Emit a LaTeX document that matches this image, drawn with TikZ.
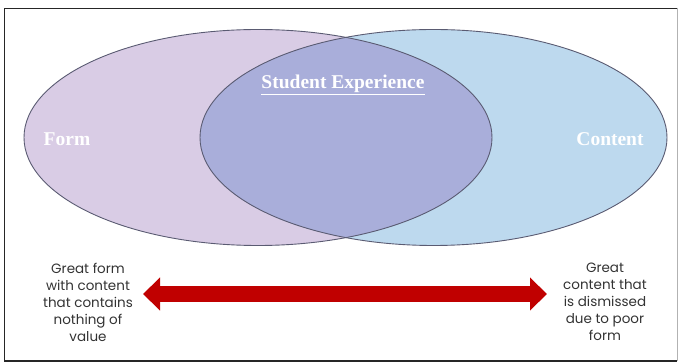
\documentclass[tikz,border=0pt]{standalone}
\usepackage{fontspec}
\setmainfont{Liberation Serif}
\newfontfamily\capfont{Poppins}
\usetikzlibrary{arrows.meta}

\definecolor{formfill}{HTML}{D9CCE5}
\definecolor{contentfill}{HTML}{BDD9EE}
\definecolor{overlapfill}{HTML}{A9AEDA}
\definecolor{rimline}{HTML}{5A5B72}
\definecolor{arrowred}{HTML}{C00000}

\tikzset{
  rim/.style={draw=rimline, line width=0.9pt},
  setlabel/.style={text=white, font=\fontsize{19.5}{22}\selectfont\bfseries},
  caption/.style={align=center, font=\capfont\fontsize{13.5}{17}\selectfont, text=black!80},
  spanarrow/.style={draw=arrowred, line width=15.5pt,
    {Triangle[length=17pt, width=32pt]}-{Triangle[length=17pt, width=32pt]}},
}

\begin{document}
\begin{tikzpicture}[x=1pt, y=-1pt]
  \useasboundingbox (0,0) rectangle (678,363);

  % outer frame: dark on three sides, faint on the right
  \draw[line width=1.8pt, black!85] (677,8.5) -- (4.5,8.5) -- (4.5,361) -- (677,361);
  \draw[line width=0.8pt, black!30] (677,8.5) -- (677,361);

  % the two sets and their overlap
  \fill[formfill] (258,137.5) ellipse [x radius=234, y radius=108];
  \fill[contentfill] (433.5,137.5) ellipse [x radius=233.5, y radius=108];
  \begin{scope}
    \clip (258,137.5) ellipse [x radius=234, y radius=108];
    \fill[overlapfill] (433.5,137.5) ellipse [x radius=233.5, y radius=108];
  \end{scope}
  \draw[rim] (258,137.5) ellipse [x radius=234, y radius=108];
  \draw[rim] (433.5,137.5) ellipse [x radius=233.5, y radius=108];

  % set labels
  \node[setlabel] (form) at (67,139) {Form};
  \node[setlabel] (content) at (610,139) {Content};
  \node[setlabel] (experience) at (343,85) {\underline{Student Experience}};

  % spectrum between the two extremes
  \coordinate (lefttip) at (143,294);
  \coordinate (righttip) at (547,294);
  \draw[spanarrow] (lefttip) -- (righttip);

  \node[caption] (leftcap) at (88,302)
    {Great form\\with content\\that contains\\nothing of\\value};
  \node[caption] (rightcap) at (605,302)
    {Great\\content that\\is dismissed\\due to poor\\form};
\end{tikzpicture}
\end{document}
